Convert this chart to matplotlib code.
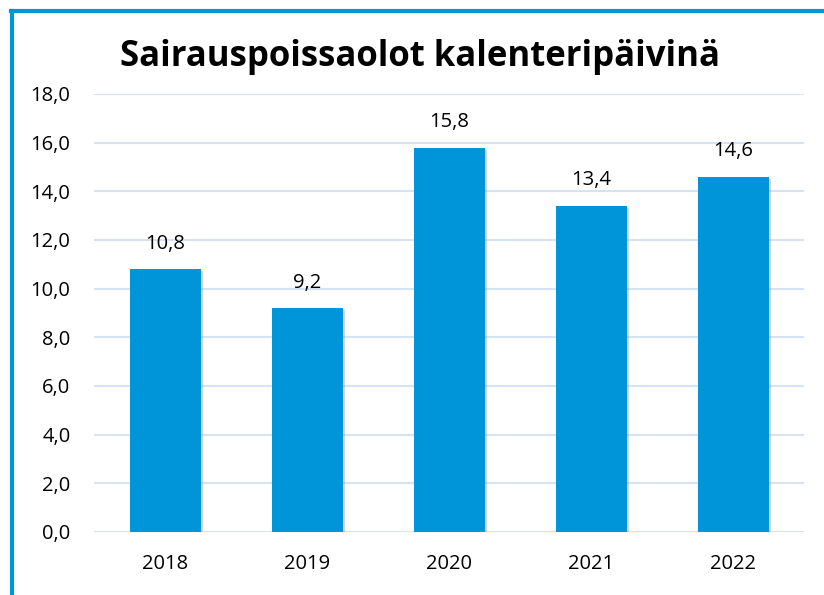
import matplotlib.pyplot as plt
import matplotlib.patheffects as pe
from matplotlib.lines import Line2D

years = ['2018', '2019', '2020', '2021', '2022']
days = [10.8, 9.2, 15.8, 13.4, 14.6]
yticks = [0, 2, 4, 6, 8, 10, 12, 14, 16, 18]

bar_color = '#0094D8'
grid_color = '#D6E3F3'

plt.rcParams['font.family'] = ['Open Sans', 'DejaVu Sans']

fig = plt.figure(figsize=(8.24, 5.95), dpi=100)
ax = fig.add_axes([94 / 824, 1 - 532 / 595, 710 / 824, 438 / 595])

bars = ax.bar(years, days, width=0.5, color=bar_color, zorder=3)
for b in bars:
    b.set_path_effects([pe.SimplePatchShadow(offset=(1.5, -1.5), shadow_rgbFace='#888888', alpha=0.35),
                        pe.Normal()])

for x, v in zip(range(len(years)), days):
    ax.text(x, v + 1.05, f'{v:.1f}'.replace('.', ','), ha='center', va='center', fontsize=14.5)

ax.set_xlim(-0.5, len(years) - 0.5)
ax.set_ylim(0, 18)
ax.set_yticks(yticks)
ax.set_yticklabels([f'{t:.1f}'.replace('.', ',') for t in yticks], fontsize=14.5)
ax.tick_params(axis='x', labelsize=14.5, length=0, pad=16)
ax.tick_params(axis='y', length=0, pad=17)
ax.yaxis.grid(True, color=grid_color, linewidth=1.5, zorder=0)
for s in ax.spines.values():
    s.set_visible(False)

fig.text(0.51, 1 - 57 / 595, 'Sairauspoissaolot kalenteripäivinä', ha='center', va='center',
         fontsize=25, fontweight='bold')

# blue frame on the left and top
fig.add_artist(Line2D([12 / 824, 12 / 824], [0, 1 - 11 / 595], color=bar_color, linewidth=3))
fig.add_artist(Line2D([11 / 824, 1], [1 - 11 / 595, 1 - 11 / 595], color=bar_color, linewidth=3))

fig.savefig('out.png', dpi=100)
